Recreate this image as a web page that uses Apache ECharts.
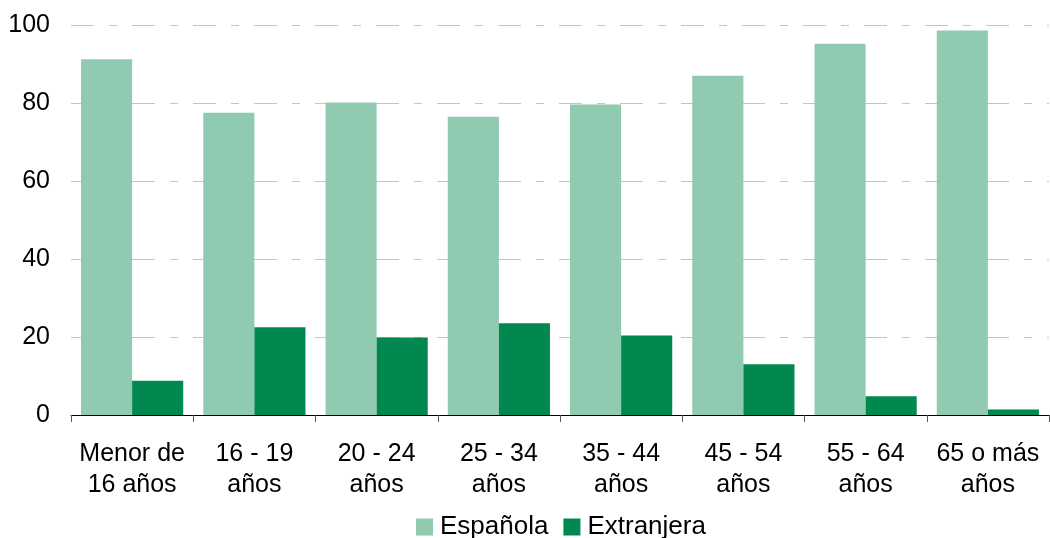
<!DOCTYPE html>
<html>
<head>
<meta charset="utf-8">
<script src="https://cdn.jsdelivr.net/npm/echarts@6/dist/echarts.min.js"></script>
<style>
  html, body { margin: 0; padding: 0; background: #ffffff; }
  #chart { width: 1050px; height: 538px; }
</style>
</head>
<body>
<div id="chart"></div>
<script>
// Age groups
const categories = ['Menor de\n16 años', '16 - 19\naños', '20 - 24\naños', '25 - 34\naños',
                    '35 - 44\naños', '45 - 54\naños', '55 - 64\naños', '65 o más\naños'];
// Share by nationality (%)
const espanola   = [91.2, 77.5, 80.1, 76.5, 79.6, 87.0, 95.2, 98.6];
const extranjera = [8.8, 22.5, 19.9, 23.5, 20.4, 13.0, 4.8, 1.4];
const yTicks = [0, 20, 40, 60, 80, 100];

const FONT = '"Liberation Sans", Arial, sans-serif';
const chart = echarts.init(document.getElementById('chart'), null, { renderer: 'canvas' });

chart.setOption({
  animation: false,
  textStyle: { fontFamily: FONT },
  grid: { left: 71, right: 1, top: 25, bottom: 123, containLabel: false },
  legend: {
    data: ['Española', 'Extranjera'],
    left: 416,
    top: 512,
    padding: 0,
    itemWidth: 17,
    itemHeight: 17,
    itemGap: 15,
    icon: 'rect',
    textStyle: { fontFamily: FONT, fontSize: 26, color: '#000', padding: [0, 0, 0, 2], lineHeight: 30 }
  },
  xAxis: {
    type: 'category',
    data: categories,
    axisLine: { lineStyle: { color: '#000', width: 1 } },
    axisTick: { show: true, length: 7, lineStyle: { color: '#555' } },
    axisLabel: {
      fontFamily: FONT, fontSize: 25, color: '#000',
      lineHeight: 31, margin: 24, interval: 0
    }
  },
  yAxis: {
    type: 'value',
    min: yTicks[0],
    max: yTicks[yTicks.length - 1],
    interval: 20,
    axisLine: { show: false },
    axisTick: { show: false },
    axisLabel: { fontFamily: FONT, fontSize: 25, color: '#000', margin: 21 },
    splitLine: {
      lineStyle: { color: '#c4c4c4', width: 1, type: [23, 15, 8, 15] }
    }
  },
  series: [
    {
      name: 'Española', type: 'bar', data: espanola,
      barGap: '0%', barCategoryGap: '16.4%',
      itemStyle: { color: '#90cab0' }
    },
    {
      name: 'Extranjera', type: 'bar', data: extranjera,
      barGap: '0%', barCategoryGap: '16.4%',
      itemStyle: { color: '#00884e' }
    }
  ]
});
</script>
</body>
</html>
